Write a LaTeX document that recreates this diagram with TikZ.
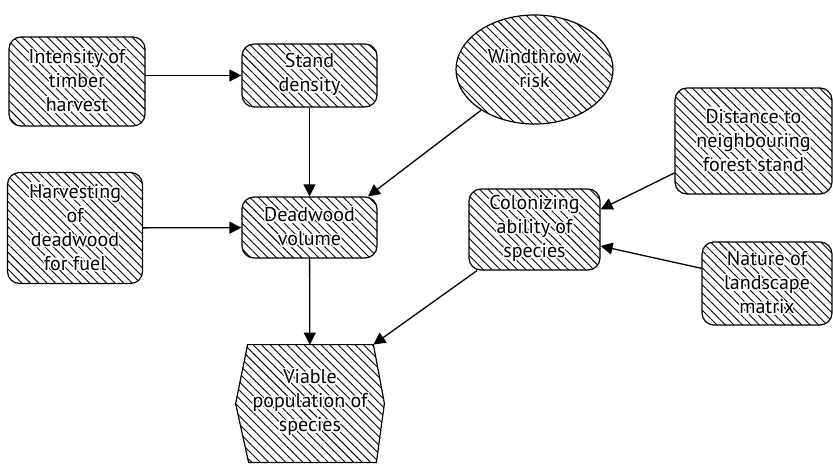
\documentclass[tikz,border=0pt]{standalone}
\usepackage{fontspec}
\setmainfont{PT Sans}
\usepackage{contour}
\contourlength{0.7pt}
\usetikzlibrary{arrows.meta,shapes.geometric,patterns.meta,backgrounds}
\newcommand{\halo}[1]{\contour{white}{#1}}

\begin{document}
\begin{tikzpicture}[x=0.5pt,y=-0.5pt,
    font=\fontsize{10}{12}\selectfont,
    hatch/.style={draw, line width=0.6pt, pattern={Lines[angle=-45,distance=3pt,line width=0.45pt]}},
    box/.style={hatch, rounded corners=6pt, align=center, inner sep=0pt},
    link/.style={-{Triangle[length=6pt,width=6pt]}, line width=0.65pt}]
    \useasboundingbox (0,0) rectangle (833,465);

    % factors
    \node[box, minimum width=68pt, minimum height=44.5pt] (intens) at (77,81.5)
        {\halo{Intensity of}\\\halo{timber}\\\halo{harvest}};
    \node[box, minimum width=67.5pt, minimum height=31.5pt] (stand) at (309.5,75.5)
        {\halo{Stand}\\\halo{density}};
    \node[hatch, ellipse, align=center, inner sep=0pt, minimum width=78.5pt, minimum height=54.5pt] (wind) at (534.5,69.5)
        {\halo{Windthrow}\\\halo{risk}};
    \node[box, minimum width=67.5pt, minimum height=55.5pt] (harvest) at (75,228)
        {\halo{Harvesting}\\\halo{of}\\\halo{deadwood}\\\halo{for fuel}};
    \node[box, minimum width=67.5pt, minimum height=30.5pt] (dead) at (309.5,227.5)
        {\halo{Deadwood}\\\halo{volume}};
    \node[box, minimum width=65.5pt, minimum height=40.5pt] (colon) at (534.5,229.5)
        {\halo{Colonizing}\\\halo{ability of}\\\halo{species}};
    \node[box, minimum width=78.5pt, minimum height=53pt] (dist) at (753.5,141)
        {\halo{Distance to}\\\halo{neighbouring}\\\halo{forest stand}};
    \node[box, minimum width=65pt, minimum height=41.5pt] (nature) at (767,283.5)
        {\halo{Nature of}\\\halo{landscape}\\\halo{matrix}};

    % outcome
    \node[align=center, inner sep=0pt, minimum width=74pt, minimum height=58.5pt] (viable) at (310,403.5)
        {\halo{Viable}\\\halo{population of}\\\halo{species}};
    \begin{scope}[on background layer]
        \path[hatch] ([xshift=6pt]viable.north west) -- ([xshift=-5.5pt]viable.north east)
            -- (viable.east) -- ([xshift=-4pt]viable.south east)
            -- ([xshift=6.5pt]viable.south west) -- (viable.west) -- cycle;
    \end{scope}
    \coordinate (viable-ne) at ([xshift=-5.5pt]viable.north east);

    % links
    \draw[link] (intens.east |- stand.west) -- (stand.west);
    \draw[link] (stand) -- (dead);
    \draw[link] (harvest) -- (dead);
    \draw[link] (wind) -- (dead.28);
    \draw[link] (dead) -- (viable);
    \draw[link] (dist.202) -- (colon.17);
    \draw[link] (nature.167) -- (colon.346);
    \draw[link] (colon) -- (viable-ne);
\end{tikzpicture}
\end{document}
